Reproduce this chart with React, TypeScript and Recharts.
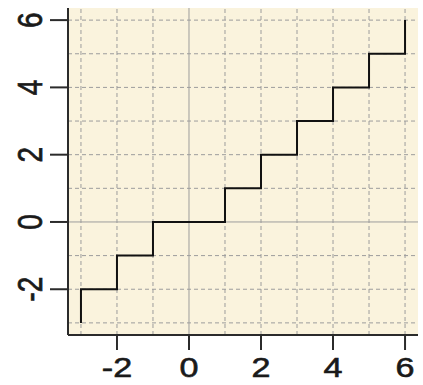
import {
  LineChart,
  Line,
  XAxis,
  YAxis,
  CartesianGrid,
  ReferenceLine,
} from "recharts";

// step points (drawn with stepBefore): trunc(x) on [-3, 6]
const xs = [-3, -2, -1, 1, 2, 3, 4, 5, 6, 6];
const ys = [-3, -2, -1, 0, 1, 2, 3, 4, 5, 6];
const data = xs.map((x, i) => ({ x, y: ys[i] }));

const gridValues = [-3, -2, -1, 0, 1, 2, 3, 4, 5, 6];
const tickValues = [-2, 0, 2, 4, 6];
const domain: [number, number] = [-3.36, 6.36];

const FONT = "'Liberation Sans', Arial, sans-serif";
const STRETCH = 1.22;
const FRAME = { stroke: "#2b2b2b", strokeWidth: 2 };

const XTick = (props: any) => {
  const { x, y, payload } = props;
  return (
    <text
      transform={`translate(${x},${y + 25}) scale(${STRETCH},1)`}
      textAnchor="middle"
      fontFamily={FONT}
      fontSize={28}
      fill="#1a1a1a"
      stroke="#1a1a1a"
      strokeWidth={0.6}
    >
      {payload.value}
    </text>
  );
};

const YTick = (props: any) => {
  const { x, y, payload } = props;
  return (
    <text
      transform={`translate(${x - 6},${y}) scale(${STRETCH},1) rotate(-90)`}
      textAnchor="middle"
      fontFamily={FONT}
      fontSize={28}
      fill="#1a1a1a"
      stroke="#1a1a1a"
      strokeWidth={0.6}
    >
      {payload.value}
    </text>
  );
};

const App = () => {
  return (
    <div style={{ position: "absolute", left: 0, top: 0, background: "#fff" }}>
      <LineChart
        width={423}
        height={385}
        data={data}
        margin={{ top: 8, right: 5, bottom: 0, left: 0 }}
      >
        <CartesianGrid
          fill="#FAF3DD"
          horizontal={false}
          vertical={false}
          stroke="none"
        />
        <XAxis
          type="number"
          dataKey="x"
          domain={domain}
          ticks={tickValues}
          allowDataOverflow
          height={50}
          axisLine={FRAME}
          stroke="#2b2b2b"
          strokeWidth={2}
          tickSize={15}
          tickLine={FRAME}
          tick={<XTick />}
          interval={0}
        />
        <XAxis
          xAxisId="top"
          orientation="top"
          type="number"
          dataKey="x"
          domain={domain}
          allowDataOverflow
          height={0}
          axisLine={FRAME}
          stroke="#2b2b2b"
          strokeWidth={2}
          tick={false}
          tickLine={false}
        />
        <YAxis
          type="number"
          dataKey="y"
          domain={domain}
          ticks={tickValues}
          allowDataOverflow
          width={68}
          axisLine={FRAME}
          stroke="#2b2b2b"
          strokeWidth={2}
          tickSize={18}
          tickLine={FRAME}
          tick={<YTick />}
          interval={0}
        />
        <YAxis
          yAxisId="right"
          orientation="right"
          type="number"
          dataKey="y"
          domain={domain}
          allowDataOverflow
          width={0}
          axisLine={FRAME}
          stroke="#2b2b2b"
          strokeWidth={2}
          tick={false}
          tickLine={false}
        />
        {gridValues.map((v) => (
          <ReferenceLine
            key={`gx${v}`}
            x={v}
            stroke="#9c9c9c"
            strokeWidth={1}
            strokeDasharray={v === 0 ? undefined : "4 3"}
          />
        ))}
        {gridValues.map((v) => (
          <ReferenceLine
            key={`gy${v}`}
            y={v}
            stroke="#9c9c9c"
            strokeWidth={1}
            strokeDasharray={v === 0 ? undefined : "4 3"}
          />
        ))}
        <Line
          type="stepBefore"
          dataKey="y"
          stroke="#111"
          strokeWidth={2}
          dot={false}
          isAnimationActive={false}
        />
      </LineChart>
    </div>
  );
};

export default App;
